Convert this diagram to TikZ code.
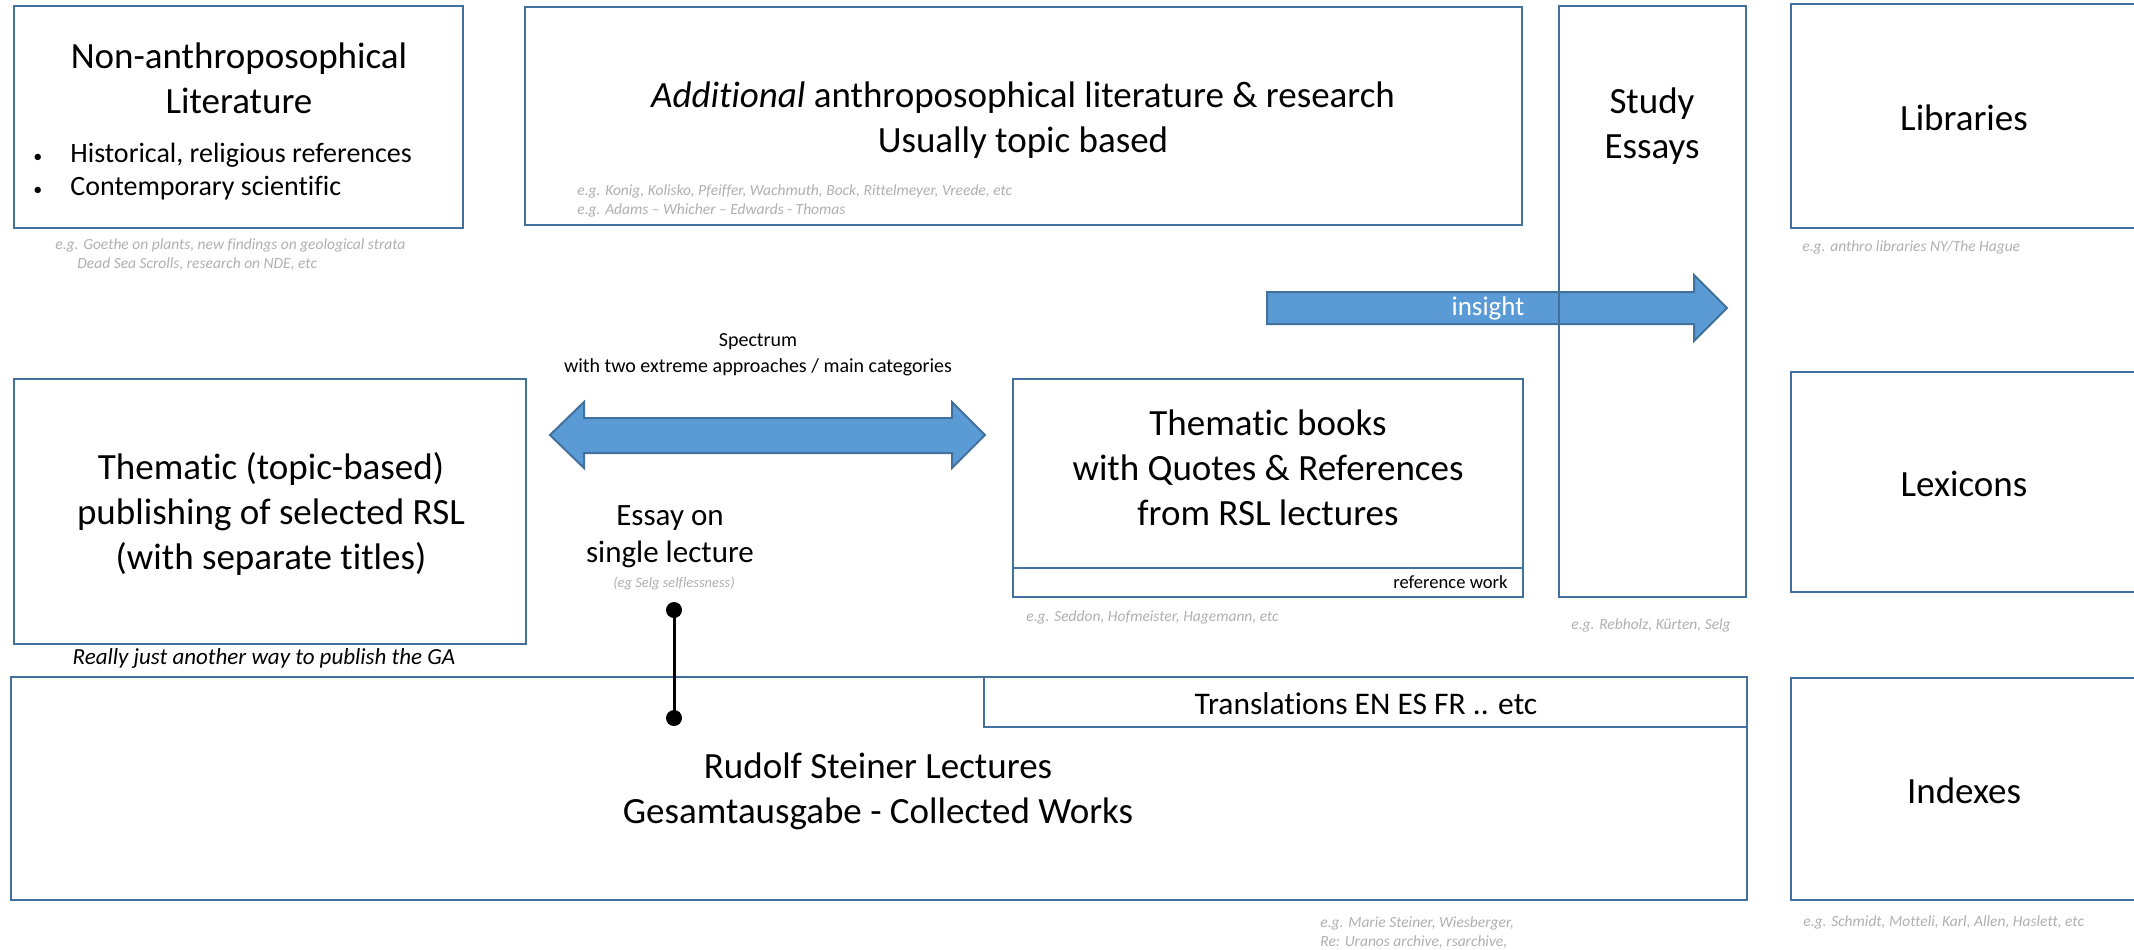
\documentclass[tikz,border=0pt]{standalone}
\usepackage{fontspec}
\setmainfont{Carlito}[Ligatures=NoCommon]
\usetikzlibrary{fit}

\definecolor{boxblue}{HTML}{41719C}
\definecolor{arrowblue}{HTML}{5B9BD5}
\definecolor{notegray}{HTML}{B0B0B0}

\tikzset{
  box/.style={draw=boxblue, line width=1.3pt, inner sep=0pt},
  title/.style={font=\fontsize{18.5}{22.5}\selectfont, align=center, inner sep=0pt},
  note/.style={font=\fontsize{7.75}{9.5}\selectfont\itshape, text=notegray, align=left, inner sep=0pt, anchor=west},
  blockarrow/.style={fill=arrowblue, draw=boxblue, line width=1pt, line join=miter},
}

\begin{document}
\begin{tikzpicture}[x=0.5pt, y=-0.5pt]
    \useasboundingbox[fill=white] (0,0) rectangle (2134,949);

    % Block arrows (drawn first, boxes go over them)
    \draw[blockarrow] (1267,292) -- (1694,292) -- (1694,275) -- (1727,308)
        -- (1694,341) -- (1694,324) -- (1267,324) -- cycle;
    \node[font=\fontsize{13.5}{15}\selectfont, text=white] (insight) at (1488,308) {insight};

    \draw[blockarrow] (550,435) -- (584,402) -- (584,418) -- (952,418) -- (952,402)
        -- (985,435) -- (952,468) -- (952,453) -- (584,453) -- (584,468) -- cycle;
    \node[font=\fontsize{10}{13}\selectfont, align=center] (spectrum) at (758,355)
        {Spectrum\\with two extreme approaches / main categories};

    % Boxes
    \node[box, fit={(14,6) (463,228)}] (nonanthro) {};
    \node[box, fit={(525,7) (1522,225)}] (additional) {};
    \node[box, fit={(1559,6) (1746,597)}] (essays) {};
    \node[box, fit={(1791,4) (2140,228)}] (libraries) {};
    \node[box, fit={(14,379) (526,644)}] (thematic) {};
    \node[box, fit={(1013,379) (1523,597)}] (books) {};
    \node[box, fit={(1013,568) (1523,597)}] (refwork) {};
    \node[box, fit={(1791,372) (2140,592)}] (lexicons) {};
    \node[box, fit={(11,677) (1747,900)}] (lectures) {};
    \node[box, fit={(984,677) (1747,727)}] (translations) {};
    \node[box, fit={(1791,678) (2140,900)}] (indexes) {};

    % Box texts
    \node[title] (nonanthrotext) at (239,78) {Non-anthroposophical\\Literature};
    \node[font=\fontsize{14}{16.5}\selectfont, align=left, inner sep=0pt, anchor=west] (nonanthrolist) at (33,172)
        {\makebox[18.5pt][l]{\small\textbullet}Historical, religious references\\
         \makebox[18.5pt][l]{\small\textbullet}Contemporary scientific};
    \node[title] (additionaltext) at (1023,120) {\textit{Additional} anthroposophical literature \& research\\Usually topic based};
    \node[title] (essaystext) at (1652,126) {Study\\Essays};
    \node[title] (librariestext) at (1964,118) {Libraries};
    \node[title] (thematictext) at (271,514) {Thematic (topic-based)\\publishing of selected RSL\\(with separate titles)};
    \node[title] (bookstext) at (1268,468) {Thematic books\\with Quotes \& References\\from RSL lectures};
    \node[font=\fontsize{9.3}{11}\selectfont, anchor=east, inner sep=0pt] (refworktext) at (1508,582) {reference work};
    \node[title] (lexiconstext) at (1964,484) {Lexicons};
    \node[font=\fontsize{15.75}{18}\selectfont, inner sep=0pt] (translationstext) at (1366,704) {Translations EN ES FR .. etc};
    \node[title] (lecturestext) at (878,791) {Rudolf Steiner Lectures\\Gesamtausgabe - Collected Works};
    \node[title] (indexestext) at (1964,791) {Indexes};

    % Free texts and notes
    \node[font=\fontsize{15.5}{18.5}\selectfont, align=center, inner sep=0pt] (essay) at (670,537) {Essay on\\single lecture};
    \node[note, anchor=center, font=\fontsize{7.25}{9}\selectfont\itshape] (essaynote) at (674,583) {(eg Selg selflessness)};
    \node[font=\fontsize{11.5}{13}\selectfont\itshape, inner sep=0pt] (gaway) at (264,658) {Really just another way to publish the GA};
    \node[note] (nonanthronote) at (55,255) {e.g. Goethe on plants, new findings on geological strata\\\hspace*{11pt}Dead Sea Scrolls, research on NDE, etc};
    \node[note] (additionalnote) at (577,201) {e.g. Konig, Kolisko, Pfeiffer, Wachmuth, Bock, Rittelmeyer, Vreede, etc\\e.g. Adams -- Whicher -- Edwards - Thomas};
    \node[note] (librariesnote) at (1802,247) {e.g. anthro libraries NY/The Hague};
    \node[note] (booksnote) at (1026,617) {e.g. Seddon, Hofmeister, Hagemann, etc};
    \node[note] (essaysnote) at (1571,625) {e.g. Rebholz, Kürten, Selg};
    \node[note] (lecturesnote) at (1320,933) {e.g. Marie Steiner, Wiesberger,\\Re: Uranos archive, rsarchive,};
    \node[note] (indexesnote) at (1803,922) {e.g. Schmidt, Motteli, Karl, Allen, Haslett, etc};

    % Pin from the essay down into the lectures
    \coordinate (essaypin) at (674,610);
    \coordinate (lecturepin) at (674,718);
    \draw[line width=1.5pt] (essaypin) -- (lecturepin);
    \foreach \p in {essaypin,lecturepin} {
        \fill (\p) circle (4pt);
    }
\end{tikzpicture}
\end{document}
